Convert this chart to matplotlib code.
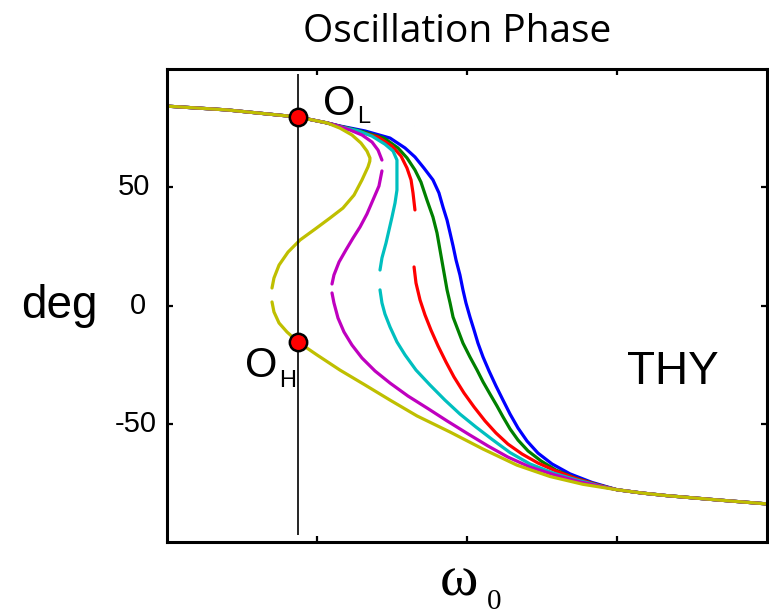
import numpy as np
import matplotlib
matplotlib.use("Agg")
import matplotlib.pyplot as plt
import matplotlib.transforms as mtransforms

# shared start (top-left) and end (bottom-right) of every phase curve
head_w = [0.0, 0.40, 0.873, 1.067]
head_phase = [84.3, 82.7, 79.7, 77.2]
tail_w = [3.0, 3.167, 3.333, 3.667, 4.0]
tail_phase = [-77.9, -79.3, -80.4, -82.2, -83.9]

# middle parts, nan marks a break between branches
blue_w = [1.153, 1.32, 1.487, 1.587, 1.653, 1.713, 1.773, 1.813, 1.84, 1.867, 1.887,
          1.907, 1.927, 1.953, 1.973, 1.993, 2.02, 2.047, 2.073, 2.107, 2.147, 2.193,
          2.24, 2.287, 2.34, 2.4, 2.473, 2.567, 2.687, 2.833]
blue_phase = [75.9, 73.8, 70.8, 66.6, 62.8, 58.1, 53.1, 47.6, 41.6, 36.1, 30.7,
              25.2, 19.2, 12.9, 6.6, 1.1, -4.9, -10.4, -15.9, -21.8, -27.7, -34.0,
              -40.0, -45.9, -51.8, -57.3, -62.4, -67.0, -71.2, -74.8]

green_w = [1.153, 1.3, 1.447, 1.54, 1.6, 1.653, 1.693, 1.733, 1.773, 1.8, 1.82,
           1.84, 1.867, 1.887, 1.907, 1.94, 1.973, 2.02, 2.067, 2.107, 2.153, 2.2,
           2.24, 2.287, 2.34, 2.407, 2.493, 2.593, 2.72, 2.873]
green_phase = [75.8, 73.6, 70.8, 66.6, 62.4, 57.3, 52.2, 44.6, 37.4, 30.7, 23.5,
               16.3, 6.6, 1.1, -4.9, -10.4, -15.9, -21.8, -27.3, -32.3, -37.4, -42.5,
               -47.1, -52.2, -56.9, -61.5, -65.7, -69.6, -72.9, -75.9]

red_w = [1.153, 1.287, 1.407, 1.5, 1.56, 1.6, 1.627, 1.64, 1.653, np.nan,
         1.647, 1.66, 1.687, 1.72, 1.76, 1.807, 1.86, 1.913, 1.98, 2.047, 2.12,
         2.193, 2.273, 2.367, 2.473, 2.593, 2.733, 2.873]
red_phase = [75.7, 73.4, 71.2, 67.4, 63.2, 58.1, 53.1, 47.6, 40.4, np.nan,
             16.3, 9.5, 2.3, -4.0, -10.4, -17.1, -23.9, -30.2, -37.0, -42.9, -48.8,
             -53.9, -58.6, -62.8, -66.6, -70.0, -73.3, -75.9]

cyan_w = [1.153, 1.273, 1.367, 1.453, 1.507, 1.533, 1.533, 1.533, 1.52, 1.5, 1.48,
          1.46, 1.433, 1.42, np.nan, 1.42, 1.433, 1.453, 1.487, 1.533, 1.587, 1.66,
          1.753, 1.853, 1.953, 2.06, 2.167, 2.287, 2.42, 2.573, 2.733, 2.887]
cyan_phase = [75.6, 73.9, 71.6, 68.2, 65.3, 61.5, 55.2, 48.8, 43.3, 37.4, 31.9,
              26.4, 20.1, 15.0, np.nan, 6.6, 1.1, -3.6, -9.1, -15.4, -20.9, -27.3,
              -33.6, -40.0, -45.9, -51.4, -56.6, -62.2, -67.0, -70.8, -73.8, -76.3]

magenta_w = [1.12, 1.22, 1.3, 1.367, 1.407, 1.433, np.nan, 1.433, 1.413, 1.373,
             1.333, 1.287, 1.24, 1.193, 1.147, 1.113, 1.1, np.nan, 1.1, 1.113, 1.14,
             1.18, 1.233, 1.3, 1.387, 1.487, 1.607, 1.74, 1.867, 2.007, 2.14, 2.273,
             2.42, 2.587, 2.753, 2.907]
magenta_phase = [76.3, 74.2, 72.1, 69.1, 65.7, 61.5, np.nan, 56.9, 50.5, 44.6,
                 38.7, 33.2, 28.5, 23.5, 18.4, 12.9, 9.1, np.nan, 5.3, 1.1, -5.3,
                 -11.2, -16.7, -22.2, -27.7, -32.8, -38.3, -43.6, -48.8, -54.3, -59.4,
                 -64.1, -68.3, -71.7, -74.6, -76.7]

yellow_w = [1.153, 1.233, 1.293, 1.333, 1.353, 1.352, 1.34, 1.3, 1.247, 1.173, 1.087,
            0.987, 0.887, 0.807, 0.747, 0.713, 0.70, np.nan, 0.70, 0.713, 0.747, 0.80,
            0.873, 1.0, 1.153, 1.32, 1.487, 1.667, 1.887, 2.107, 2.333, 2.553, 2.773]
yellow_phase = [75.0, 72.1, 68.7, 65.3, 62.4, 61.0, 58.6, 53.1, 46.7, 41.2, 37.0,
                32.3, 27.7, 22.6, 17.1, 11.6, 7.4, np.nan, 1.5, -2.7, -7.4, -11.2,
                -15.4, -20.9, -27.3, -33.6, -40.0, -46.7, -53.5, -60.7, -67.5, -72.3,
                -75.6]

curves = [
    (blue_w, blue_phase, (0.0, 0.0, 1.0)),
    (green_w, green_phase, (0.0, 0.5, 0.0)),
    (red_w, red_phase, (1.0, 0.0, 0.0)),
    (cyan_w, cyan_phase, (0.0, 0.75, 0.75)),
    (magenta_w, magenta_phase, (0.75, 0.0, 0.75)),
    (yellow_w, yellow_phase, (0.75, 0.75, 0.0)),
]

# operating frequency and the two coexisting states
w_op = 0.873
phase_low = 79.7    # O_L
phase_high = -15.4  # O_H
yticks = [-50, 0, 50]
ytick_labels = ["-50", "0", "50"]

fig = plt.figure(figsize=(7.69, 6.16), dpi=100)
ax = fig.add_axes([167 / 769, 74 / 616, 600 / 769, 473 / 616])

for w, ph, col in curves:
    x = head_w + w + tail_w
    y = head_phase + ph + tail_phase
    ax.plot(x, y, color=col, lw=2.3, solid_capstyle="round",
            solid_joinstyle="round")

ax.vlines(w_op, -97, 98, color="black", lw=1.2, zorder=5)
ax.plot([w_op, w_op], [phase_low, phase_high], "o", ms=12.5, mfc="red",
        mec="black", mew=1.8, ls="none", zorder=6)

sans = "Liberation Sans"
ax.text(1.04, 80.5, "O", fontsize=30, family=sans)
ax.text(1.267, 77.2, "L", fontsize=17, family=sans)
ax.text(0.52, -30.2, "O", fontsize=30, family=sans)
ax.text(0.747, -34.5, "H", fontsize=17, family=sans)
ax.text(3.067, -33.0, "THY", fontsize=33, family=sans)

ax.set_xlim(0, 4)
ax.set_ylim(-100, 100)
ax.set_xticks([1, 2, 3])
ax.set_yticks(yticks)
ax.tick_params(direction="in", length=4.5, width=1.6, top=True, right=True,
               labelbottom=False, labelleft=False)
for s in ax.spines.values():
    s.set_linewidth(2.2)

# tick labels placed by hand, they do not share an alignment
trans = mtransforms.blended_transform_factory(fig.transFigure, ax.transData)
label_right = {"50": 150, "0": 146, "-50": 157}
for v, lab in zip(yticks, ytick_labels):
    ax.text(label_right[lab] / 769, v, lab, transform=trans, ha="right",
            va="center", fontsize=21, family=sans)

fig.text(21 / 769, 1 - 318 / 616, "deg", fontsize=33, family=sans,
         va="baseline")
fig.text(457 / 769, 1 - 42 / 616, "Oscillation Phase", fontsize=28,
         family="Open Sans", ha="center", va="baseline")
fig.text(440 / 769, 1 - 595 / 616, "\u03c9", fontsize=42,
         family="Liberation Serif", va="baseline")
fig.text(487 / 769, 1 - 609 / 616, "0", fontsize=21,
         family="Liberation Serif", va="baseline")

fig.savefig("out.png", dpi=100)
